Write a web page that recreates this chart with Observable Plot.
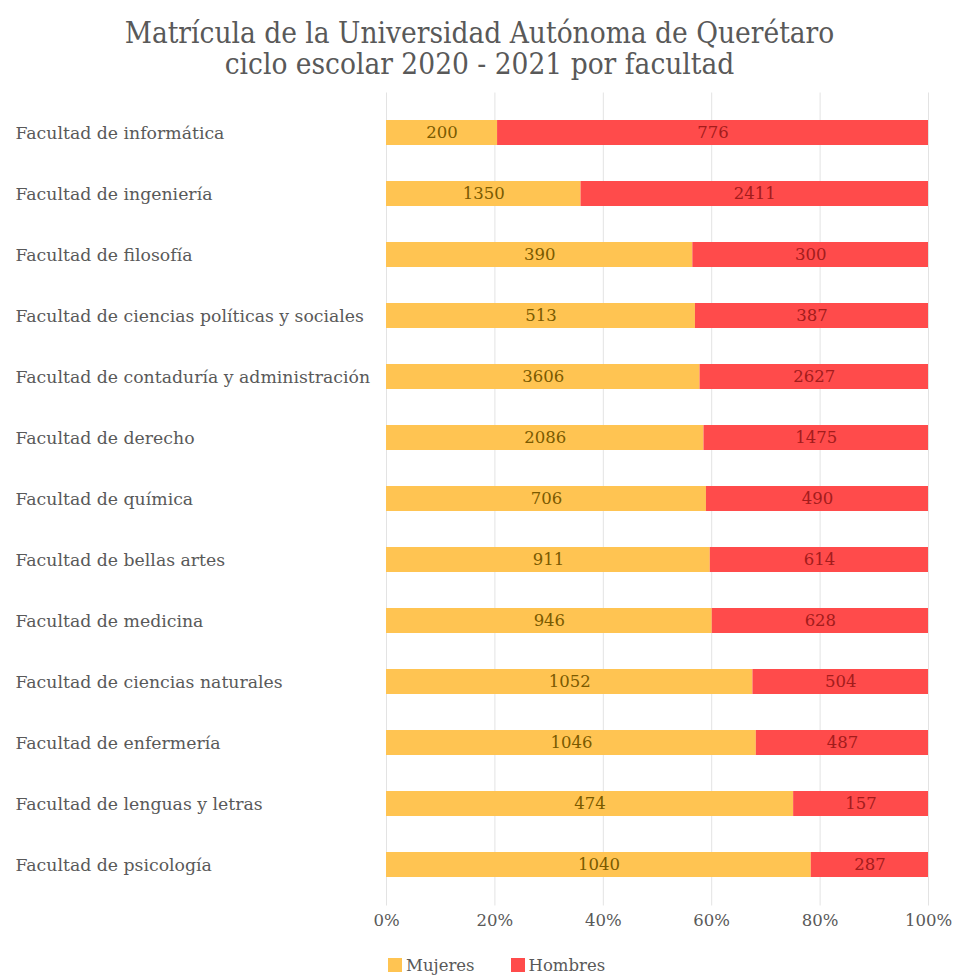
<!DOCTYPE html>
<html>
<head>
<meta charset="utf-8">
<script src="https://cdn.jsdelivr.net/npm/d3@7"></script>
<script src="https://cdn.jsdelivr.net/npm/@observablehq/plot@0.6"></script>
<style>
  html, body { margin: 0; padding: 0; background: #fff; }
  #wrap { position: relative; width: 959px; height: 978px; font-family: "DejaVu Serif", serif; color: #595959; }
  #title { position: absolute; top: 18px; left: 0; width: 959px; text-align: center; font-family: "DejaVu Serif Condensed", "DejaVu Serif", serif; font-size: 29.5px; line-height: 31px; color: #595959; }
  #chart { position: absolute; top: 90px; left: 0; }
  #legend { position: absolute; top: 956px; left: 388px; display: flex; gap: 36px; font-size: 16.5px; color: #595959; }
  #legend span.sw { display: inline-block; width: 14px; height: 14px; margin-right: 4px; vertical-align: -1px; }
</style>
</head>
<body>
<div id="wrap">
  <div id="title">Matrícula de la Universidad Autónoma de Querétaro<br>ciclo escolar 2020 - 2021 por facultad</div>
  <div id="chart"></div>
  <div id="legend"></div>
</div>
<script>
const categories = [
  "Facultad de informática",
  "Facultad de ingeniería",
  "Facultad de filosofía",
  "Facultad de ciencias políticas y sociales",
  "Facultad de contaduría y administración",
  "Facultad de derecho",
  "Facultad de química",
  "Facultad de bellas artes",
  "Facultad de medicina",
  "Facultad de ciencias naturales",
  "Facultad de enfermería",
  "Facultad de lenguas y letras",
  "Facultad de psicología"
];
const mujeres = [200, 1350, 390, 513, 3606, 2086, 706, 911, 946, 1052, 1046, 474, 1040];
const hombres = [776, 2411, 300, 387, 2627, 1475, 490, 614, 628, 504, 487, 157, 287];
const series = ["Mujeres", "Hombres"];
const colors = ["#FFC452", "#FF4B4B"];
const labelColors = ["#7A5A00", "#A31C1C"];
const xTicks = [0, 0.2, 0.4, 0.6, 0.8, 1];

const data = [];
categories.forEach((c, i) => {
  data.push({cat: c, sexo: series[0], value: mujeres[i]});
  data.push({cat: c, sexo: series[1], value: hombres[i]});
});

const chart = Plot.plot({
  width: 959,
  height: 855,
  marginLeft: 386,
  marginRight: 31,
  marginTop: 12.5,
  marginBottom: 49.5,
  style: {fontFamily: "DejaVu Serif, serif", fontSize: "16px", color: "#595959", background: "white"},
  x: {domain: [0, 1], ticks: xTicks, tickFormat: d => Math.round(d * 100) + "%", label: null},
  y: {domain: categories, paddingInner: 0.59, paddingOuter: 0.295, label: null},
  color: {domain: series, range: colors},
  marks: [
    Plot.ruleX(xTicks, {stroke: "#e3e3e3", strokeWidth: 1, insetTop: -10, insetBottom: -10}),
    Plot.barX(data, Plot.stackX({x: "value", y: "cat", fill: "sexo", offset: "normalize", order: series})),
    Plot.text(data, Plot.stackX({x: "value", y: "cat", z: "sexo", offset: "normalize", order: series, text: d => String(d.value), fill: d => labelColors[series.indexOf(d.sexo)], fontSize: 16.5})),
    Plot.axisX({ticks: xTicks, tickFormat: d => Math.round(d * 100) + "%", tickSize: 0, tickPadding: 18, fontSize: 16.5, fill: "#595959"}),
    Plot.axisY({tickSize: 0, tickPadding: 0, textAnchor: "start", dx: -371, fontSize: 17.3, fill: "#595959"})
  ]
});
document.getElementById("chart").appendChild(chart);

const legend = document.getElementById("legend");
series.forEach((s, i) => {
  const item = document.createElement("div");
  item.innerHTML = `<span class="sw" style="background:${colors[i]}"></span>${s}`;
  legend.appendChild(item);
});
</script>
</body>
</html>
